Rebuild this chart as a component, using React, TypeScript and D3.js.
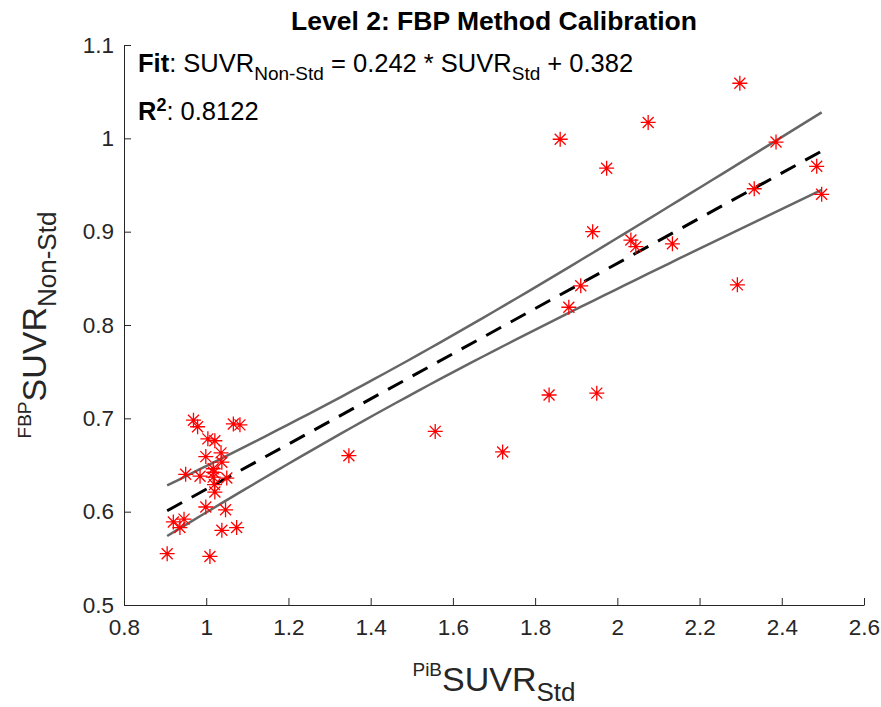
import { useEffect, useRef } from 'react';
import * as d3 from 'd3';

// PiB SUVR (standard method) vs FBP SUVR (non-standard method)
const pibSuvr = [
  0.969, 0.979, 1.066, 1.082, 1.004, 1.021, 1.036, 0.999, 1.038, 1.017,
  1.018, 0.95, 0.985, 1.017, 1.05, 1.02, 1.021, 0.999, 1.047, 0.92,
  0.946, 0.936, 1.038, 1.074, 0.905, 1.009,
  1.347, 1.557, 1.721, 1.834, 1.95,
  1.861, 2.075, 1.974, 1.94, 2.033, 2.045, 2.134, 1.911, 1.882, 2.292,
  2.298, 2.386, 2.485, 2.333, 2.497,
];
const fbpSuvr = [
  0.698, 0.691, 0.694, 0.693, 0.678, 0.676, 0.663, 0.659, 0.653, 0.646,
  0.642, 0.64, 0.638, 0.637, 0.636, 0.629, 0.621, 0.605, 0.602, 0.589,
  0.592, 0.583, 0.58, 0.583, 0.555, 0.552,
  0.66, 0.686, 0.664, 0.725, 0.727,
  0.999, 1.017, 0.968, 0.9, 0.891, 0.884, 0.887, 0.842, 0.819, 0.843,
  1.059, 0.996, 0.97, 0.946, 0.94,
];

const fitSlope = 0.242;
const fitIntercept = 0.382;
const rSquared = '0.8122';
const tCrit = 2.015; // t(0.975, n - 2)

const xTicks = [0.8, 1, 1.2, 1.4, 1.6, 1.8, 2, 2.2, 2.4, 2.6];
const yTicks = [0.5, 0.6, 0.7, 0.8, 0.9, 1, 1.1];

const width = 881;
const height = 707;
const margin = { top: 45, right: 17, bottom: 102, left: 124 };
const FONT = '"Liberation Sans", Arial, Helvetica, sans-serif';
const AXIS_COLOR = '#262626';

export default function App() {
  const svgRef = useRef<SVGSVGElement>(null);

  useEffect(() => {
    if (!svgRef.current) return;
    const svg = d3.select(svgRef.current);
    svg.selectAll('*').remove();

    const x = d3.scaleLinear().domain([0.8, 2.6]).range([margin.left, width - margin.right]);
    const y = d3.scaleLinear().domain([0.5, 1.1]).range([height - margin.bottom, margin.top]);

    const data = pibSuvr.map((v, i) => ({ x: v, y: fbpSuvr[i] }));
    const n = data.length;
    const xMean = d3.mean(pibSuvr)!;
    const sxx = d3.sum(pibSuvr, (v) => (v - xMean) ** 2);
    const sse = d3.sum(data, (d) => (d.y - (fitSlope * d.x + fitIntercept)) ** 2);
    const s = Math.sqrt(sse / (n - 2));
    const [xMin, xMax] = d3.extent(pibSuvr) as [number, number];

    const xs = d3.range(0, 61).map((i) => xMin + ((xMax - xMin) * i) / 60);
    const half = (xv: number) => tCrit * s * Math.sqrt(1 / n + (xv - xMean) ** 2 / sxx);
    const fit = (xv: number) => fitSlope * xv + fitIntercept;

    const line = d3
      .line<number[]>()
      .x((d) => x(d[0]))
      .y((d) => y(d[1]));

    // Axes
    const xAxis = d3
      .axisBottom(x)
      .tickValues(xTicks)
      .tickFormat((d) => String(d))
      .tickSizeInner(-7)
      .tickSizeOuter(0)
      .tickPadding(14);
    const gx = svg
      .append('g')
      .attr('transform', `translate(0,${height - margin.bottom})`)
      .call(xAxis);

    const yAxis = d3
      .axisLeft(y)
      .tickValues(yTicks)
      .tickFormat((d) => String(d))
      .tickSizeInner(-7)
      .tickSizeOuter(0)
      .tickPadding(10);
    const gy = svg.append('g').attr('transform', `translate(${margin.left},0)`).call(yAxis);

    [gx, gy].forEach((g) => {
      g.attr('font-family', FONT).attr('font-size', 22.5);
      g.selectAll('path, line').attr('stroke', AXIS_COLOR).attr('stroke-width', 1);
      g.selectAll('text').attr('fill', AXIS_COLOR);
    });

    // Confidence bounds
    svg
      .append('path')
      .attr('d', line(xs.map((v) => [v, fit(v) + half(v)])))
      .attr('fill', 'none')
      .attr('stroke', '#666666')
      .attr('stroke-width', 2.5);
    svg
      .append('path')
      .attr('d', line(xs.map((v) => [v, fit(v) - half(v)])))
      .attr('fill', 'none')
      .attr('stroke', '#666666')
      .attr('stroke-width', 2.5);

    // Fit line
    svg
      .append('path')
      .attr('d', line([[xMin, fit(xMin)], [xMax, fit(xMax)]]))
      .attr('fill', 'none')
      .attr('stroke', '#000')
      .attr('stroke-width', 3)
      .attr('stroke-dasharray', '17,11');

    // Asterisk markers
    const r = 7.5;
    const dg = 5.5;
    const star = `M${-r},0H${r}M0,${-r}V${r}M${-dg},${-dg}L${dg},${dg}M${-dg},${dg}L${dg},${-dg}`;
    svg
      .append('g')
      .selectAll('path')
      .data(data)
      .enter()
      .append('path')
      .attr('transform', (d) => `translate(${x(d.x)},${y(d.y)})`)
      .attr('d', star)
      .attr('fill', 'none')
      .attr('stroke', '#ff0000')
      .attr('stroke-width', 1.3);

    // Title
    svg
      .append('text')
      .attr('x', (margin.left + width - margin.right) / 2)
      .attr('y', 30)
      .attr('text-anchor', 'middle')
      .attr('font-family', FONT)
      .attr('font-size', 26.5)
      .attr('font-weight', 'bold')
      .attr('fill', '#000')
      .text('Level 2: FBP Method Calibration');

    // Fit annotation
    const fitText = svg
      .append('text')
      .attr('x', 138)
      .attr('y', 72)
      .attr('font-family', FONT)
      .attr('font-size', 25.5)
      .attr('fill', '#000');
    fitText.append('tspan').attr('font-weight', 'bold').text('Fit');
    fitText.append('tspan').text(': SUVR');
    fitText.append('tspan').attr('font-size', 19).attr('dy', 8).text('Non-Std');
    fitText.append('tspan').attr('dy', -8).text(` = ${fitSlope} * SUVR`);
    fitText.append('tspan').attr('font-size', 19).attr('dy', 8).text('Std');
    fitText.append('tspan').attr('dy', -8).text(` + ${fitIntercept}`);

    const rText = svg
      .append('text')
      .attr('x', 138)
      .attr('y', 120)
      .attr('font-family', FONT)
      .attr('font-size', 25.5)
      .attr('fill', '#000');
    rText.append('tspan').attr('font-weight', 'bold').text('R');
    rText.append('tspan').attr('font-weight', 'bold').attr('font-size', 18).attr('dy', -9).text('2');
    rText.append('tspan').attr('dy', 9).text(`: ${rSquared}`);

    // X label
    const xl = svg
      .append('text')
      .attr('x', (margin.left + width - margin.right) / 2)
      .attr('y', 691)
      .attr('text-anchor', 'middle')
      .attr('font-family', FONT)
      .attr('font-size', 34)
      .attr('fill', AXIS_COLOR);
    xl.append('tspan').attr('font-size', 19).attr('dy', -15).text('PiB');
    xl.append('tspan').attr('dy', 15).text('SUVR');
    xl.append('tspan').attr('font-size', 26).attr('dy', 10).text('Std');

    // Y label
    const yl = svg
      .append('text')
      .attr('transform', `translate(46,${(margin.top + height - margin.bottom) / 2}) rotate(-90)`)
      .attr('text-anchor', 'middle')
      .attr('font-family', FONT)
      .attr('font-size', 34)
      .attr('fill', AXIS_COLOR);
    yl.append('tspan').attr('font-size', 19).attr('dy', -15).text('FBP');
    yl.append('tspan').attr('dy', 15).text('SUVR');
    yl.append('tspan').attr('font-size', 26).attr('dy', 10).text('Non-Std');
  }, []);

  return (
    <div style={{ position: 'absolute', left: 0, top: 0 }}>
      <svg ref={svgRef} width={width} height={height} style={{ display: 'block', background: '#fff' }} />
    </div>
  );
}
